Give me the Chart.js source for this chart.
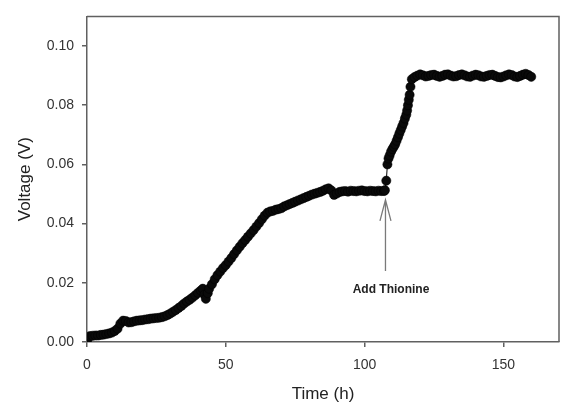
<!DOCTYPE html>
<html>
<head>
<meta charset="utf-8">
<script src="https://cdn.jsdelivr.net/npm/chart.js@4/dist/chart.umd.min.js"></script>
<style>
html,body{margin:0;padding:0;background:#fff;}
#wrap{width:561px;height:405px;}
</style>
</head>
<body>
<div id="wrap"><canvas id="c" width="561" height="405"></canvas></div>
<script>
const timeH = [0,0.5,1,2,3,4,5,6,7,8,9,10,11,12,13,14,15,16,17,18,19,20,21,22,23,24,25,26,27,28,29,30,31,32,33,34,35,36,37,38,39,40,41,41.7,42.3,42.8,43.5,44,45,46,47,48,49,50,51,52,53,54,55,56,57,58,59,60,61,62,63,64,65,66,67,68,69,70,71,72,73,74,75,76,77,78,79,80,81,82,83,84,85,86,87,88,89,90,91,92,93,94,95,96,97,98,99,100,101,102,103,104,105,106,107,107.3,107.8,108.2,108.6,109,109.5,110,110.5,111,111.5,112,112.5,113,113.5,114,114.5,115,115.3,115.6,115.9,116.2,116.5,117,118,119,120,121,122,123,124,125,126,127,128,129,130,131,132,133,134,135,136,137,138,139,140,141,142,143,144,145,146,147,148,149,150,151,152,153,154,155,156,157,158,159,160];
const voltageV = [0.0000,0.0015,0.0020,0.0021,0.0022,0.0022,0.0024,0.0025,0.0027,0.0029,0.0032,0.0037,0.0045,0.0062,0.0072,0.0071,0.0066,0.0067,0.0070,0.0072,0.0073,0.0074,0.0076,0.0077,0.0079,0.0080,0.0081,0.0082,0.0084,0.0087,0.0091,0.0096,0.0102,0.0108,0.0115,0.0122,0.0130,0.0137,0.0143,0.0150,0.0158,0.0166,0.0174,0.0180,0.0160,0.0146,0.0165,0.0180,0.0195,0.0212,0.0226,0.0238,0.0250,0.0260,0.0272,0.0284,0.0297,0.0310,0.0322,0.0334,0.0345,0.0356,0.0367,0.0378,0.0390,0.0402,0.0415,0.0427,0.0437,0.0441,0.0443,0.0447,0.0449,0.0452,0.0458,0.0462,0.0466,0.0470,0.0474,0.0478,0.0482,0.0486,0.0490,0.0494,0.0498,0.0501,0.0504,0.0507,0.0511,0.0516,0.0519,0.0512,0.0497,0.0502,0.0507,0.0509,0.0510,0.0508,0.0511,0.0510,0.0509,0.0511,0.0512,0.0510,0.0509,0.0511,0.0510,0.0509,0.0511,0.0510,0.0510,0.0513,0.0545,0.0600,0.0620,0.0630,0.0643,0.0652,0.0660,0.0668,0.0680,0.0692,0.0704,0.0716,0.0728,0.0740,0.0755,0.0768,0.0782,0.0800,0.0818,0.0835,0.0862,0.0888,0.0895,0.0900,0.0904,0.0901,0.0897,0.0899,0.0902,0.0903,0.0899,0.0896,0.0899,0.0903,0.0904,0.0900,0.0897,0.0898,0.0902,0.0904,0.0901,0.0897,0.0896,0.0900,0.0903,0.0901,0.0897,0.0896,0.0899,0.0902,0.0903,0.0899,0.0895,0.0894,0.0897,0.0901,0.0904,0.0902,0.0897,0.0895,0.0899,0.0903,0.0906,0.0902,0.0896];
const xTickValues = [0,50,100,150];
const yTickValues = [0,0.02,0.04,0.06,0.08,0.10];
const annotationText = 'Add Thionine';
const annotationTime = 107.5;
const arrowFrom = 0.024;
const arrowTo = 0.048;
const labelPos = [109.5, 0.0178];

const points = timeH.map((t,i)=>({x:t,y:voltageV[i]}));
const FONT = "'Liberation Sans', Arial, sans-serif";

const extras = {
  id:'extras',
  afterDraw(chart){
    const ctx = chart.ctx, a = chart.chartArea;
    const xs = chart.scales.x, ys = chart.scales.y;
    ctx.save();
    ctx.strokeStyle = '#606060';
    ctx.lineWidth = 1.5;
    ctx.beginPath();
    ctx.moveTo(a.left, a.top);
    ctx.lineTo(a.right, a.top);
    ctx.lineTo(a.right, a.bottom);
    ctx.stroke();
    const ax = xs.getPixelForValue(annotationTime);
    const y0 = ys.getPixelForValue(arrowFrom);
    const y1 = ys.getPixelForValue(arrowTo);
    ctx.strokeStyle = '#7a7a7a';
    ctx.lineWidth = 1.3;
    ctx.beginPath();
    ctx.moveTo(ax, y0); ctx.lineTo(ax, y1);
    ctx.moveTo(ax-5.5, y1+21); ctx.lineTo(ax, y1); ctx.lineTo(ax+5.5, y1+21);
    ctx.stroke();
    ctx.fillStyle = '#222';
    ctx.font = "bold 12px " + FONT;
    ctx.textAlign = 'center';
    ctx.textBaseline = 'middle';
    ctx.fillText(annotationText, xs.getPixelForValue(labelPos[0]), ys.getPixelForValue(labelPos[1]));
    ctx.restore();
  }
};

new Chart(document.getElementById('c'), {
  type:'scatter',
  data:{datasets:[{
    data:points,
    showLine:true,
    borderColor:'#000',
    borderWidth:1,
    backgroundColor:'#000',
    pointBackgroundColor:'#0a0a0a',
    pointBorderColor:'#000',
    pointRadius:4.6,
    pointBorderWidth:0.5
  }]},
  options:{
    responsive:false,
    animation:false,
    events:[],
    layout:{autoPadding:false, padding:{top:12,right:2,left:0,bottom:0}},
    plugins:{legend:{display:false},tooltip:{enabled:false}},
    scales:{
      x:{
        type:'linear', min:0, max:170,
        afterFit(s){ s.height = 63; s.paddingRight = 0; s.paddingLeft = 0; },
        afterBuildTicks(s){ s.ticks = xTickValues.map(v=>({value:v})); },
        grid:{drawOnChartArea:false, drawTicks:true, tickLength:5, color:'#606060', lineWidth:1.5},
        border:{display:true, color:'#606060', width:1.5},
        ticks:{padding:10, color:'#333', font:{family:FONT, size:14}, callback:v=>String(v), maxRotation:0},
        title:{display:true, text:'Time (h)', color:'#222', font:{family:FONT, size:17}, padding:{top:0,bottom:0}}
      },
      y:{
        type:'linear', min:0, max:0.11,
        afterFit(s){ s.width = 87; },
        afterBuildTicks(s){ s.ticks = yTickValues.map(v=>({value:v})); },
        grid:{drawOnChartArea:false, drawTicks:true, tickLength:5, color:'#606060', lineWidth:1.5},
        border:{display:true, color:'#606060', width:1.5},
        ticks:{padding:8, color:'#333', font:{family:FONT, size:14}, callback:v=>Number(v).toFixed(2)},
        title:{display:true, text:'Voltage (V)', color:'#222', font:{family:FONT, size:17}, padding:{top:15,bottom:0}}
      }
    }
  },
  plugins:[extras]
});
</script>
</body>
</html>
